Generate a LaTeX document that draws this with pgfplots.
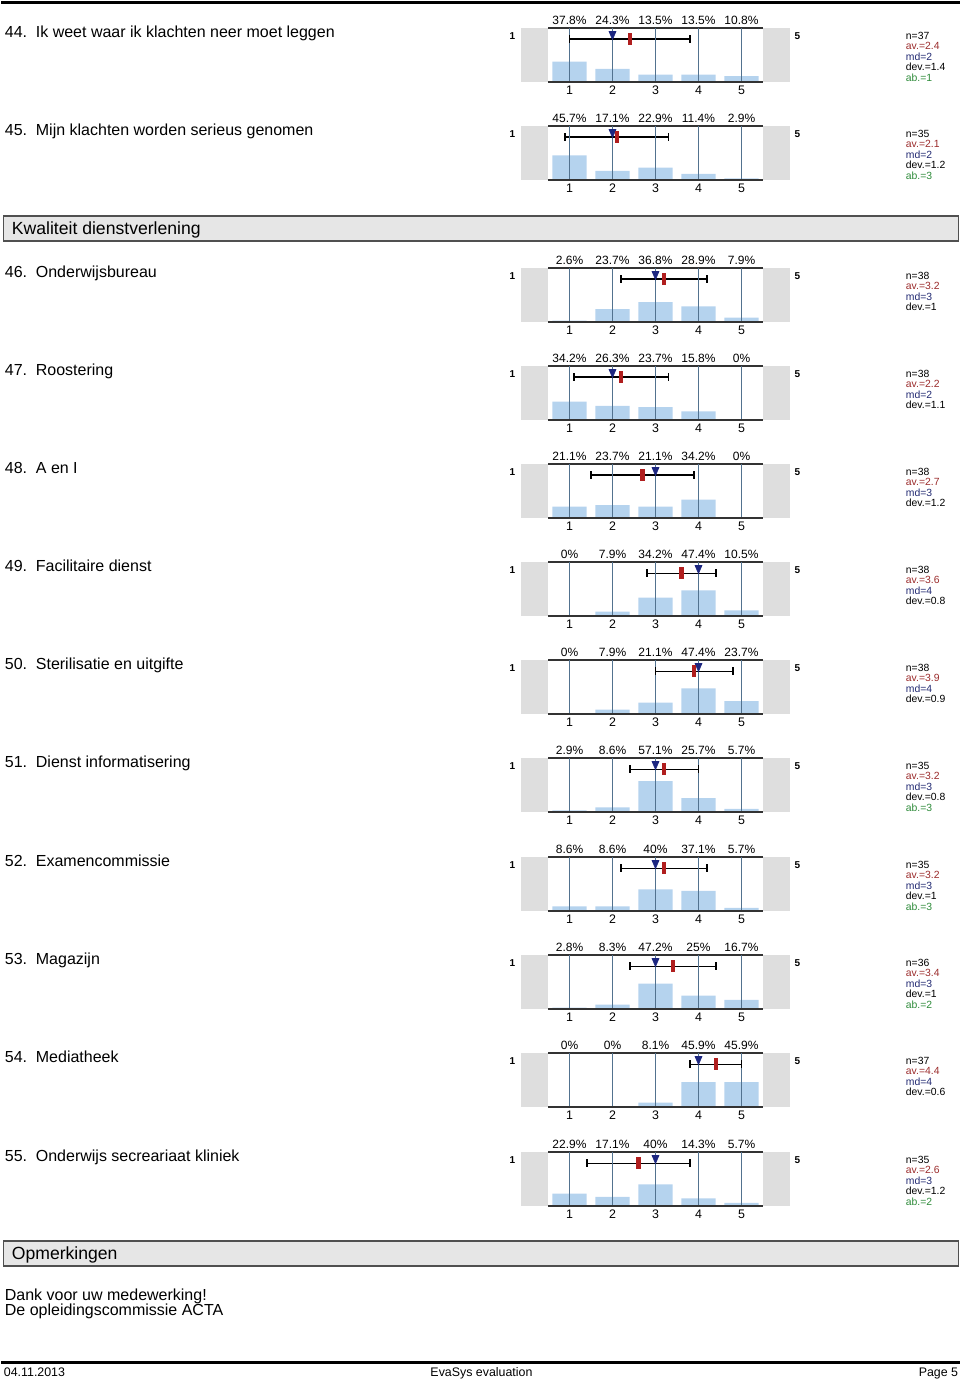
\documentclass[border=0pt]{standalone}
\usepackage{pgfplots}
\pgfplotsset{compat=1.18}
\usepackage{fontspec}
\setmainfont{Liberation Sans}
\definecolor{barblue}{HTML}{B5D3EE}
\definecolor{gridblue}{HTML}{52728F}
\definecolor{graybox}{HTML}{DEDEDE}
\definecolor{meanred}{HTML}{B01E1E}
\definecolor{avtext}{HTML}{9B2C2C}
\definecolor{medblue}{HTML}{1C2680}
\definecolor{mdtext}{HTML}{222A72}
\definecolor{abgreen}{HTML}{2E8B3A}
\definecolor{hdrfill}{HTML}{E6E6E6}
\definecolor{hdrdraw}{HTML}{505050}
\newcommand\itemfont{\fontsize{8pt}{9.6pt}\selectfont}
\newcommand\pctfont{\fontsize{6pt}{7pt}\selectfont}
\newcommand\ticfont{\fontsize{6.2pt}{7pt}\selectfont}
\newcommand\statfont{\fontsize{5.2pt}{6pt}\selectfont}
\newcommand\scalefont{\fontsize{5pt}{6pt}\selectfont\bfseries}
\newcommand\hdrfont{\fontsize{8.8pt}{10pt}\selectfont}
\newcommand\footfont{\fontsize{6.2pt}{7pt}\selectfont}
\pgfplotsset{
 evax/.style={
  width=107.5pt, height=27pt, scale only axis, anchor=north west,
  xmin=0.5, xmax=5.5, ymin=0, ymax=100,
  axis x line*=bottom, axis y line=none,
  xtick={1,2,3,4,5}, major tick length=0pt,
  /pgf/number format/assume math mode=true,
  xmajorgrids, grid style={draw=gridblue, line width=0.6pt},
  xticklabel style={font=\ticfont, anchor=center, yshift=-4pt},
  axis line style={-, draw=black!80, line width=0.8pt},
  clip=false, axis on top,
 },
 barst/.style={ybar, bar width=0.8, fill=barblue, draw=none},
 errst/.style={black, line width=0.85pt, mark=|, mark size=2pt,
  mark options={black, line width=0.85pt}},
 medst/.style={only marks, mark=triangle*, mark size=2.6pt,
  mark options={rotate=180, xscale=0.75, fill=medblue, draw=medblue}},
 meanst/.style={only marks, mark=|, mark size=3pt,
  mark options={draw=meanred, line width=2.2pt}},
}
\newcommand\evitem[9]{%
 \def\evtop{#1}\def\evnum{#2}\def\evlabel{#3}%
 \def\pa{#4}\def\pb{#5}\def\pc{#6}\def\pd{#7}\def\pe{#8}\def\evav{#9}\evitemB}
\newcommand\evitemB[4]{%
 \def\evmd{#1}\def\evdev{#2}\def\evn{#3}\def\evab{#4}%
 \pgfmathsetmacro\evlo{\evav-\evdev}%
 \pgfmathsetmacro\evhi{\evav+\evdev}%
 \edef\evbars{\noexpand\addplot[barst] coordinates {(1,\pa) (2,\pb) (3,\pc) (4,\pd) (5,\pe)};}%
 \edef\everr{\noexpand\addplot[errst] coordinates {(\evlo,79) (\evhi,79)};}%
 \edef\evmed{\noexpand\addplot[medst] coordinates {(\evmd,88.7)};}%
 \edef\evmean{\noexpand\addplot[meanst] coordinates {(\evav,79)};}%
 \begin{axis}[evax, at={(273.25pt,{-0.5pt*\evtop})}]
  \fill[graybox] (axis cs:-0.128,0) rectangle (axis cs:0.5,100);
  \fill[graybox] (axis cs:5.5,0) rectangle (axis cs:6.128,100);
  \evbars
  \everr
  \evmed
  \evmean
  \draw[-, draw=black!80, line width=0.8pt] (rel axis cs:0,1) -- (rel axis cs:1,1);
  \node[font=\pctfont, yshift=4pt] at (axis cs:1,100) {\pa\%};
  \node[font=\pctfont, yshift=4pt] at (axis cs:2,100) {\pb\%};
  \node[font=\pctfont, yshift=4pt] at (axis cs:3,100) {\pc\%};
  \node[font=\pctfont, yshift=4pt] at (axis cs:4,100) {\pd\%};
  \node[font=\pctfont, yshift=4pt] at (axis cs:5,100) {\pe\%};
 \end{axis}
 \begin{scope}[x=0.5pt,y=-0.5pt]
  \node[anchor=base west, font=\itemfont, inner sep=0pt] at (3,\evtop+9) {\evnum};
  \node[anchor=base west, font=\itemfont, inner sep=0pt] at (34,\evtop+9) {\evlabel};
  \node[font=\scalefont, inner sep=0pt] at (511,\evtop+8) {1};
  \node[font=\scalefont, inner sep=0pt] at (796,\evtop+8) {5};
  \node[anchor=west, font=\statfont, inner sep=0pt] at (904,\evtop+7.5) {n=\evn};
  \node[anchor=west, font=\statfont, inner sep=0pt, text=avtext] at (904,\evtop+18) {av.=\evav};
  \node[anchor=west, font=\statfont, inner sep=0pt, text=mdtext] at (904,\evtop+28.5) {md=\evmd};
  \node[anchor=west, font=\statfont, inner sep=0pt] at (904,\evtop+39) {dev.=\evdev};
  \if\relax\detokenize{#4}\relax\else
  \node[anchor=west, font=\statfont, inner sep=0pt, text=abgreen] at (904,\evtop+49.5) {ab.=\evab};
  \fi
 \end{scope}
}
\begin{document}
\begin{tikzpicture}
\begin{scope}[x=0.5pt,y=-0.5pt]
 \path (0,0) rectangle (960,1382);
 \draw[line width=1.5pt] (0,2) -- (958,2);
 \draw[fill=hdrfill, draw=hdrdraw, line width=0.8pt] (2,216) rectangle (957,241);
 \node[anchor=base west, font=\hdrfont, inner sep=0pt] at (10,234.5) {Kwaliteit dienstverlening};
 \draw[fill=hdrfill, draw=hdrdraw, line width=0.8pt] (2,1241) rectangle (957,1266);
 \node[anchor=base west, font=\hdrfont, inner sep=0pt] at (10,1259.5) {Opmerkingen};
 \node[anchor=base west, font=\itemfont, inner sep=0pt] at (3,1300.5) {Dank voor uw medewerking!};
 \node[anchor=base west, font=\itemfont, inner sep=0pt] at (3,1315.5) {De opleidingscommissie ACTA};
 \draw[line width=1.5pt] (0,1362) -- (958,1362);
 \node[anchor=base west, font=\footfont, inner sep=0pt] at (2,1376.5) {04.11.2013};
 \node[anchor=base, font=\footfont, inner sep=0pt] at (480,1376.5) {EvaSys evaluation};
 \node[anchor=base east, font=\footfont, inner sep=0pt] at (957,1376.5) {Page 5};
\end{scope}
\evitem{28}{44.}{Ik weet waar ik klachten neer moet leggen}{37.8}{24.3}{13.5}{13.5}{10.8}{2.4}{2}{1.4}{37}{1}
\evitem{126}{45.}{Mijn klachten worden serieus genomen}{45.7}{17.1}{22.9}{11.4}{2.9}{2.1}{2}{1.2}{35}{3}
\evitem{268}{46.}{Onderwijsbureau}{2.6}{23.7}{36.8}{28.9}{7.9}{3.2}{3}{1}{38}{}
\evitem{366}{47.}{Roostering}{34.2}{26.3}{23.7}{15.8}{0}{2.2}{2}{1.1}{38}{}
\evitem{464}{48.}{A en I}{21.1}{23.7}{21.1}{34.2}{0}{2.7}{3}{1.2}{38}{}
\evitem{562}{49.}{Facilitaire dienst}{0}{7.9}{34.2}{47.4}{10.5}{3.6}{4}{0.8}{38}{}
\evitem{660}{50.}{Sterilisatie en uitgifte}{0}{7.9}{21.1}{47.4}{23.7}{3.9}{4}{0.9}{38}{}
\evitem{758}{51.}{Dienst informatisering}{2.9}{8.6}{57.1}{25.7}{5.7}{3.2}{3}{0.8}{35}{3}
\evitem{857}{52.}{Examencommissie}{8.6}{8.6}{40}{37.1}{5.7}{3.2}{3}{1}{35}{3}
\evitem{955}{53.}{Magazijn}{2.8}{8.3}{47.2}{25}{16.7}{3.4}{3}{1}{36}{2}
\evitem{1053}{54.}{Mediatheek}{0}{0}{8.1}{45.9}{45.9}{4.4}{4}{0.6}{37}{}
\evitem{1152}{55.}{Onderwijs secreariaat kliniek}{22.9}{17.1}{40}{14.3}{5.7}{2.6}{3}{1.2}{35}{2}
\end{tikzpicture}
\end{document}
